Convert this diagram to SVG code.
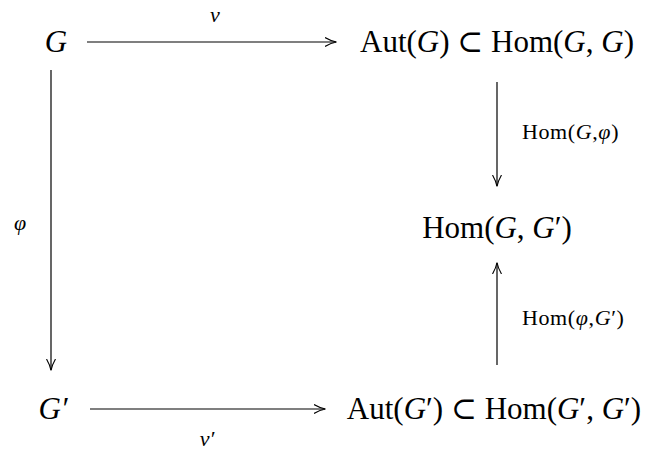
<svg xmlns="http://www.w3.org/2000/svg" width="645" height="450" viewBox="0 0 645 450">
<style>
text{font-family:"Liberation Serif","DejaVu Serif",serif;fill:#000}
.big{font-size:31px}
.sm{font-size:22px;letter-spacing:0.6px}
.lb{font-size:22px}
.i{font-style:italic}
.ln{stroke:#000;stroke-width:1.2;fill:none}
</style>
<defs>
<marker id="ah" viewBox="0 0 12 12" refX="11" refY="6" markerWidth="12" markerHeight="12" markerUnits="userSpaceOnUse" orient="auto">
<path d="M0,1.5 Q6,5 11.5,6 Q6,7 0,10.5" fill="none" stroke="#000" stroke-width="1.1"/>
</marker>
</defs>
<rect width="645" height="450" fill="#fff"/>
<g id="G"><text class="big i" x="56" y="52" text-anchor="middle">G</text></g>
<g id="AutG"><text class="big" x="497" y="52" text-anchor="middle">Aut(<tspan class="i">G</tspan>) ⊂ Hom(<tspan class="i">G</tspan>, <tspan class="i">G</tspan>)</text></g>
<g id="HomGG1"><text class="big" x="497" y="238" text-anchor="middle">Hom(<tspan class="i">G</tspan>, <tspan class="i">G</tspan>′)</text></g>
<g id="G1"><text class="big i" x="53" y="419" text-anchor="middle">G′</text></g>
<g id="AutG1"><text class="big" x="494" y="419" text-anchor="middle">Aut(<tspan class="i">G</tspan>′) ⊂ Hom(<tspan class="i">G</tspan>′, <tspan class="i">G</tspan>′)</text></g>
<g id="connectors">
<line class="ln" x1="87" y1="42" x2="336" y2="42" marker-end="url(#ah)"/>
<line class="ln" x1="497" y1="82" x2="497" y2="186" marker-end="url(#ah)"/>
<line class="ln" x1="497" y1="365" x2="497" y2="263" marker-end="url(#ah)"/>
<line class="ln" x1="51" y1="70" x2="51" y2="370" marker-end="url(#ah)"/>
<line class="ln" x1="90" y1="409" x2="325" y2="409" marker-end="url(#ah)"/>
<text class="lb i" x="215" y="22" text-anchor="middle">ν</text>
<text class="sm" x="522" y="139">Hom(<tspan class="i">G</tspan>,<tspan class="i">φ</tspan>)</text>
<text class="sm" x="522" y="325">Hom(<tspan class="i">φ</tspan>,<tspan class="i">G</tspan>′)</text>
<text class="lb i" x="20" y="230" text-anchor="middle">φ</text>
<text class="lb i" x="207" y="446" text-anchor="middle">ν′</text>
</g>
</svg>
